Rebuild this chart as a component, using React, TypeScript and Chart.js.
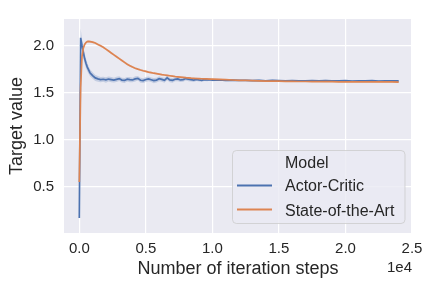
import React, { useEffect, useRef } from "react";
import { Chart, registerables } from "chart.js";

Chart.register(...registerables);

const steps = [
  0, 100, 200, 300, 400, 500, 600, 700, 800, 1000,
  1200, 1400, 1600, 1800, 2000, 2200, 2400, 2600, 2800, 3000,
  3200, 3400, 3600, 3800, 4000, 4200, 4400, 4600, 4800, 5000,
  5200, 5400, 5600, 5800, 6000, 6200, 6400, 6600, 6800, 7000,
  7200, 7400, 7600, 7800, 8000, 8200, 8400, 8600, 8800, 9000,
  9200, 9400, 9600, 9800, 10000, 10500, 11000, 11500, 12000, 12500,
  13000, 13500, 14000, 14500, 15000, 15500, 16000, 16500, 17000, 17500,
  18000, 18500, 19000, 19500, 20000, 20500, 21000, 21500, 22000, 22500,
  23000, 23500, 24000,
];

const actorCritic = [
  0.17, 2.08, 2.0, 1.93, 1.86, 1.81, 1.77, 1.74, 1.71, 1.68,
  1.655, 1.645, 1.638, 1.641, 1.634, 1.643, 1.637, 1.631, 1.64, 1.648,
  1.632, 1.628, 1.641, 1.636, 1.633, 1.645, 1.651, 1.63, 1.627, 1.638,
  1.644, 1.635, 1.626, 1.632, 1.646, 1.639, 1.63, 1.656, 1.634, 1.629,
  1.641, 1.645, 1.633, 1.637, 1.648, 1.642, 1.636, 1.631, 1.639, 1.634,
  1.63, 1.636, 1.633, 1.637, 1.631, 1.634, 1.629, 1.632, 1.628, 1.63,
  1.627, 1.629, 1.625, 1.628, 1.626, 1.624, 1.627, 1.625, 1.623, 1.626,
  1.624, 1.627, 1.623, 1.625, 1.626, 1.622, 1.625, 1.623, 1.626, 1.622,
  1.625, 1.623, 1.624,
];

const actorCriticSpread = [
  0.07, 0.1, 0.07, 0.06, 0.055, 0.05, 0.045, 0.04, 0.038, 0.035,
  0.032, 0.03, 0.028, 0.027, 0.029, 0.026, 0.029, 0.025, 0.028, 0.026,
  0.025, 0.027, 0.024, 0.028, 0.025, 0.027, 0.024, 0.026, 0.025, 0.027,
  0.025, 0.024, 0.027, 0.025, 0.026, 0.024, 0.027, 0.025, 0.024, 0.026,
  0.022, 0.024, 0.021, 0.023, 0.02, 0.021, 0.018, 0.019, 0.017, 0.017,
  0.015, 0.014, 0.013, 0.012, 0.011, 0.01, 0.009, 0.009, 0.008, 0.008,
  0.008, 0.008, 0.007, 0.008, 0.007, 0.008, 0.007, 0.008, 0.007, 0.008,
  0.007, 0.008, 0.007, 0.008, 0.007, 0.008, 0.007, 0.008, 0.007, 0.008,
  0.007, 0.008, 0.007,
];

const stateOfTheArt = [
  0.55, 1.55, 1.88, 1.97, 2.01, 2.03, 2.04, 2.042, 2.04, 2.035,
  2.025, 2.01, 1.995, 1.98, 1.96, 1.94, 1.92, 1.9, 1.88, 1.86,
  1.84, 1.82, 1.8, 1.785, 1.77, 1.758, 1.748, 1.739, 1.731, 1.724,
  1.717, 1.711, 1.705, 1.7, 1.695, 1.69, 1.686, 1.682, 1.678, 1.674,
  1.67, 1.667, 1.664, 1.661, 1.658, 1.656, 1.653, 1.651, 1.649, 1.648,
  1.646, 1.645, 1.644, 1.643, 1.642, 1.639, 1.636, 1.633, 1.63, 1.628,
  1.626, 1.624, 1.622, 1.621, 1.62, 1.619, 1.618, 1.617, 1.617, 1.616,
  1.616, 1.615, 1.615, 1.614, 1.614, 1.614, 1.613, 1.613, 1.613, 1.612,
  1.612, 1.612, 1.611,
];

const stateOfTheArtSpread = [
  0.03, 0.03, 0.02, 0.015, 0.012, 0.012, 0.011, 0.011, 0.011, 0.011,
  0.011, 0.011, 0.011, 0.011, 0.011, 0.011, 0.011, 0.011, 0.011, 0.011,
  0.011, 0.011, 0.011, 0.011, 0.011, 0.01, 0.01, 0.01, 0.01, 0.01,
  0.009, 0.009, 0.009, 0.009, 0.009, 0.008, 0.008, 0.008, 0.008, 0.008,
  0.007, 0.007, 0.007, 0.007, 0.007, 0.007, 0.007, 0.007, 0.007, 0.007,
  0.006, 0.006, 0.006, 0.006, 0.006, 0.006, 0.006, 0.006, 0.006, 0.006,
  0.005, 0.005, 0.005, 0.005, 0.005, 0.005, 0.005, 0.005, 0.005, 0.005,
  0.005, 0.005, 0.005, 0.005, 0.005, 0.005, 0.005, 0.005, 0.005, 0.005,
  0.005, 0.005, 0.005,
];

const xTickValues = [0, 5000, 10000, 15000, 20000, 25000];
const yTickValues = [0.5, 1.0, 1.5, 2.0];

const seriesNames = ["Actor-Critic", "State-of-the-Art"];
const legendTitle = "Model";
const xTitle = "Number of iteration steps";
const yTitle = "Target value";
const xOffsetLabel = "1e4";

const BLUE = "#4c72b0";
const ORANGE = "#dd8452";
const TEXT = "#262626";
const FONT = "Arial, 'Liberation Sans', sans-serif";

const pts = (vals: number[]) => vals.map((v, i) => ({ x: steps[i], y: v }));

export default function App() {
  const ref = useRef<HTMLCanvasElement | null>(null);

  useEffect(() => {
    document.body.style.margin = "0";
    const canvas = ref.current;
    if (!canvas) return;

    const bgPlugin = {
      id: "bg",
      beforeDraw(chart: any) {
        const { ctx, chartArea: a } = chart;
        ctx.save();
        ctx.fillStyle = "#eaeaf2";
        ctx.fillRect(a.left, a.top, a.right - a.left, a.bottom - a.top);
        ctx.restore();
      },
      afterDraw(chart: any) {
        const { ctx, chartArea: a } = chart;
        ctx.save();
        ctx.fillStyle = TEXT;
        ctx.font = `18px ${FONT}`;
        ctx.textAlign = "center";
        ctx.textBaseline = "alphabetic";
        ctx.fillText(xTitle, (a.left + a.right) / 2, 274);
        ctx.save();
        ctx.translate(21.5, (a.top + a.bottom) / 2);
        ctx.rotate(-Math.PI / 2);
        ctx.fillText(yTitle, 0, 0);
        ctx.restore();
        ctx.font = `15px ${FONT}`;
        ctx.textAlign = "right";
        ctx.fillText(xOffsetLabel, a.right, 271.5);

        const lx = 232.5, ly = 150.5, lw = 172.5, lh = 73, r = 4;
        ctx.beginPath();
        ctx.moveTo(lx + r, ly);
        ctx.lineTo(lx + lw - r, ly);
        ctx.arcTo(lx + lw, ly, lx + lw, ly + r, r);
        ctx.lineTo(lx + lw, ly + lh - r);
        ctx.arcTo(lx + lw, ly + lh, lx + lw - r, ly + lh, r);
        ctx.lineTo(lx + r, ly + lh);
        ctx.arcTo(lx, ly + lh, lx, ly + lh - r, r);
        ctx.lineTo(lx, ly + r);
        ctx.arcTo(lx, ly, lx + r, ly, r);
        ctx.closePath();
        ctx.fillStyle = "rgba(234,234,242,0.8)";
        ctx.fill();
        ctx.strokeStyle = "rgba(204,204,204,0.8)";
        ctx.lineWidth = 1;
        ctx.stroke();

        ctx.font = `16px ${FONT}`;
        ctx.textAlign = "left";
        ctx.fillStyle = TEXT;
        ctx.fillText(legendTitle, 285, 168.3);
        ctx.fillText(seriesNames[0], 285, 190.7);
        ctx.fillText(seriesNames[1], 285, 215.5);
        ctx.lineWidth = 1.8;
        ctx.strokeStyle = BLUE;
        ctx.beginPath();
        ctx.moveTo(237, 185.5);
        ctx.lineTo(272, 185.5);
        ctx.stroke();
        ctx.strokeStyle = ORANGE;
        ctx.beginPath();
        ctx.moveTo(237, 209.5);
        ctx.lineTo(272, 209.5);
        ctx.stroke();
        ctx.restore();
      },
    };

    const chart = new Chart(canvas, {
      type: "line",
      data: {
        datasets: [
          {
            label: "acUpper",
            data: pts(actorCritic.map((v, i) => v + actorCriticSpread[i])),
            borderWidth: 0,
            pointRadius: 0,
            backgroundColor: "rgba(76,114,176,0.24)",
            fill: "+1",
            order: 6,
          },
          {
            label: "acLower",
            data: pts(actorCritic.map((v, i) => v - actorCriticSpread[i])),
            borderWidth: 0,
            pointRadius: 0,
            fill: false,
            order: 5,
          },
          {
            label: seriesNames[0],
            data: pts(actorCritic),
            borderColor: BLUE,
            borderWidth: 1.7,
            pointRadius: 0,
            fill: false,
            order: 4,
          },
          {
            label: "sotaUpper",
            data: pts(stateOfTheArt.map((v, i) => v + stateOfTheArtSpread[i])),
            borderWidth: 0,
            pointRadius: 0,
            backgroundColor: "rgba(221,132,82,0.24)",
            fill: "+1",
            order: 3,
          },
          {
            label: "sotaLower",
            data: pts(stateOfTheArt.map((v, i) => v - stateOfTheArtSpread[i])),
            borderWidth: 0,
            pointRadius: 0,
            fill: false,
            order: 2,
          },
          {
            label: seriesNames[1],
            data: pts(stateOfTheArt),
            borderColor: ORANGE,
            borderWidth: 1.7,
            pointRadius: 0,
            fill: false,
            order: 1,
          },
        ],
      },
      options: {
        animation: false,
        responsive: false,
        maintainAspectRatio: false,
        layout: { padding: { top: 10, right: 20, left: 0, bottom: 0 } },
        plugins: {
          legend: { display: false },
          tooltip: { enabled: false },
        },
        elements: { line: { tension: 0 } },
        scales: {
          x: {
            type: "linear",
            min: -1150,
            max: 25000,
            border: { display: false },
            grid: { color: "#ffffff", lineWidth: 1.2, drawTicks: false },
            afterBuildTicks: (s: any) => {
              s.ticks = xTickValues.map((v) => ({ value: v }));
            },
            ticks: {
              padding: 7,
              color: TEXT,
              font: { family: FONT, size: 15 },
              maxRotation: 0,
              autoSkip: false,
              callback: (v: any) => (Number(v) / 10000).toFixed(1),
            },
            afterFit: (s: any) => {
              s.height = 55;
            },
          },
          y: {
            type: "linear",
            min: 0.01,
            max: 2.28,
            border: { display: false },
            grid: { color: "#ffffff", lineWidth: 1.2, drawTicks: false },
            afterBuildTicks: (s: any) => {
              s.ticks = yTickValues.map((v) => ({ value: v }));
            },
            ticks: {
              padding: 10,
              color: TEXT,
              font: { family: FONT, size: 15 },
              callback: (v: any) => Number(v).toFixed(1),
            },
            afterFit: (s: any) => {
              s.width = 64;
            },
          },
        },
      },
      plugins: [bgPlugin],
    });

    return () => chart.destroy();
  }, []);

  return (
    <div style={{ position: "absolute", left: 0, top: 0, width: 432, height: 288, background: "#ffffff" }}>
      <canvas ref={ref} width={432} height={288} style={{ width: 432, height: 288, display: "block" }} />
    </div>
  );
}
